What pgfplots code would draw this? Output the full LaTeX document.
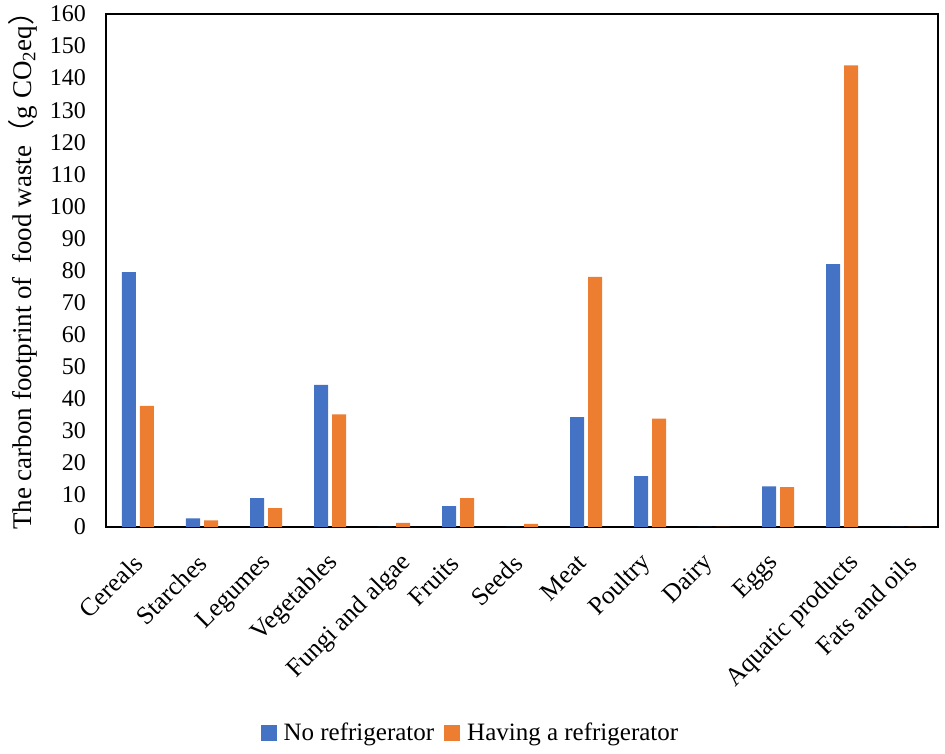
\documentclass[border=0pt]{standalone}
\usepackage{fontspec}
\setmainfont{Liberation Serif}
\newfontfamily\cjk{Noto Sans CJK SC}
\usepackage{pgfplots}
\pgfplotsset{compat=1.18}
\definecolor{xlblue}{HTML}{4472C4}
\definecolor{xlorange}{HTML}{ED7D31}
\begin{document}
\fontsize{24}{28}\selectfont
\begin{tikzpicture}
\begin{axis}[
  at={(0pt,0pt)}, anchor=south west,
  scale only axis, width=832pt, height=513pt,
  xmin=-0.5, xmax=12.5, ymin=0, ymax=160,
  ytick distance=10,
  xtick={0,...,12},
  xticklabels={Cereals,Starches,Legumes,Vegetables,Fungi and algae,Fruits,Seeds,Meat,Poultry,Dairy,Eggs,Aquatic products,Fats and oils},
  xticklabel style={xshift={{0,0,2,4,13,-3,-4,-4,-3,-4,-3,13,6}[\ticknum]}, yshift=-32pt, rotate=45, anchor=east, inner sep=0pt, font=\fontsize{25.5}{30}\selectfont},
  yticklabel style={xshift=-12pt, font=\fontsize{24}{28}\selectfont},
  /pgf/number format/assume math mode=true,
  major tick length=0pt,
  axis line style={line width=1.5pt, black},
  ybar=4pt, bar width=14pt,
  ylabel={The carbon footprint of \ food waste{\cjk （}g CO\textsubscript{2}eq{\cjk ）}},
  ylabel style={font=\fontsize{27}{31}\selectfont, at={(axis description cs:-0.1,0.512)}, anchor=center},
  legend style={at={(0.438,-0.4016)}, anchor=center, draw=none, legend columns=2, font=\fontsize{25}{29}\selectfont, /tikz/column 2/.style={column sep=8pt}},
  legend image code/.code={\fill[#1] (0pt,-8pt) rectangle (16pt,8pt); \path (21pt,0pt);},
  clip=false,
]
\addplot[fill=xlblue, draw=none] coordinates {(0,79.5) (1,2.7) (2,9.0) (3,44.3) (4,0) (5,6.5) (6,0) (7,34.3) (8,15.9) (9,0) (10,12.7) (11,82.0) (12,0)};
\addplot[fill=xlorange, draw=none] coordinates {(0,37.8) (1,2.1) (2,5.9) (3,35.1) (4,1.3) (5,9.0) (6,1.0) (7,78.0) (8,33.8) (9,0) (10,12.4) (11,144.0) (12,0)};
\legend{No refrigerator, Having a refrigerator}
\end{axis}
\pgfresetboundingbox
\useasboundingbox (-106pt,-227pt) rectangle (839pt,527pt);
\end{tikzpicture}
\end{document}
